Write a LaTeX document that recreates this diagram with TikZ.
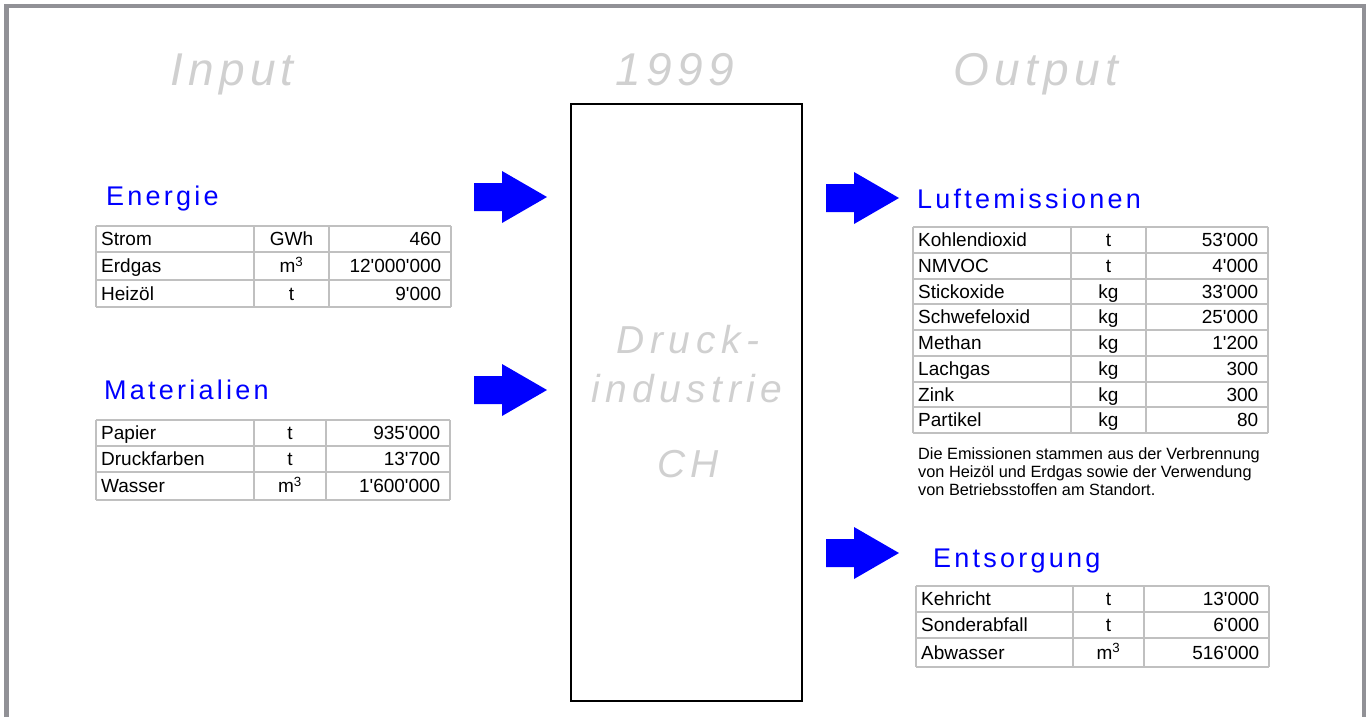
\documentclass[tikz,border=0pt]{standalone}
\usepackage{fontspec}
\setmainfont{Liberation Sans}
\newfontfamily\spacedfont[LetterSpace=12]{Liberation Sans}
\newfontfamily\titlefont[LetterSpace=11.5]{Liberation Sans}
\newfontfamily\widefont[LetterSpace=14]{Liberation Sans}
\definecolor{ttl}{RGB}{208,208,208}
\definecolor{hdblue}{RGB}{0,0,255}
\definecolor{gridgray}{RGB}{192,192,192}
\definecolor{framegray}{RGB}{145,145,150}
\newcommand{\ap}{\textquotesingle}
\newcommand{\setcols}[4]{\def\xa{#1}\def\xb{#2}\def\xc{#3}\def\xd{#4}}
\newcommand{\trow}[6]{%
  \node[cell, anchor=base west] (#1-l) at ({\xa+5}, {(#2+#3)/2+6.7}) {#4};
  \node[cell, anchor=base] (#1-u) at ({(\xb+\xc)/2}, {(#2+#3)/2+6.7}) {#5};
  \node[cell, anchor=base east] (#1-v) at ({\xd-9.5}, {(#2+#3)/2+6.7}) {#6};
}
\newcommand{\tgrid}[3]{%
  \foreach \yy in {#3} {\draw[gridline] (\xa,\yy) -- (\xd,\yy);}
  \foreach \xx in {\xa,\xb,\xc,\xd} {\draw[gridline] (\xx,#1) -- (\xx,#2);}
}
\newcommand{\blockarrow}[2]{%
  \fill[hdblue] (#1,#2-14) -- (#1+28,#2-14) -- (#1+28,#2-26) -- (#1+73,#2)
    -- (#1+28,#2+26) -- (#1+28,#2+14) -- (#1,#2+14) -- cycle;
}
\tikzset{
  cell/.style={inner sep=0pt, font=\fontsize{19}{21}\selectfont, text=black},
  gridline/.style={draw=gridgray, line width=2pt},
  bigtitle/.style={inner sep=0pt, anchor=base, text=ttl, font=\fontsize{46}{50}\titlefont\itshape},
  boxtext/.style={inner sep=0pt, anchor=base, text=ttl, font=\fontsize{39}{42}\widefont\itshape},
  header/.style={inner sep=0pt, anchor=base west, text=hdblue, font=\fontsize{27}{30}\spacedfont},
  note/.style={inner sep=0pt, anchor=base west, font=\fontsize{16.3}{18}\selectfont},
}
\begin{document}
\begin{tikzpicture}[x=1pt,y=-1pt]
\useasboundingbox (0,0) rectangle (1372,716);
% outer frame
\draw[framegray, line width=4.5pt] (6.5,720) -- (6.5,6.2) -- (1364,6.2) -- (1364,720);

% titles
\node[bigtitle] (tin) at (232,85) {Input};
\node[bigtitle] (tyear) at (675,85) {1999};
\node[bigtitle] (tout) at (1036,85) {Output};

% central box
\node[draw=black, line width=1.8pt, minimum width=231pt, minimum height=597pt, inner sep=0pt] (box) at (686.5,402.5) {};
\node[boxtext] (b1) at (688,353) {Druck-};
\node[boxtext] (b2) at (687,402.5) {industrie};
\node[boxtext] (b3) at (688,477) {CH};

% arrows
\blockarrow{474}{197}
\blockarrow{474}{390}
\blockarrow{826}{198}
\blockarrow{826}{553}

% Energie
\node[header] (hE) at (106,205.7) {Energie};
\setcols{96}{254}{329}{451}
\tgrid{226}{307}{226,252,280,307}
\trow{e1}{226}{252}{Strom}{GWh}{460}
\trow{e2}{252}{280}{Erdgas}{m\textsuperscript{3}}{12\ap000\ap000}
\trow{e3}{280}{307}{Heizöl}{t}{9\ap000}

% Materialien
\node[header] (hM) at (104,399) {Materialien};
\setcols{96}{254}{326}{450}
\tgrid{420}{500}{420,446,472,500}
\trow{m1}{420}{446}{Papier}{t}{935\ap000}
\trow{m2}{446}{472}{Druckfarben}{t}{13\ap700}
\trow{m3}{472}{500}{Wasser}{m\textsuperscript{3}}{1\ap600\ap000}

% Luftemissionen
\node[header] (hL) at (917,208) {Luftemissionen};
\setcols{913}{1071}{1146}{1268}
\tgrid{227}{433}{227,252.75,278.5,304.25,330,355.75,381.5,407.25,433}
\trow{l1}{227}{252.75}{Kohlendioxid}{t}{53\ap000}
\trow{l2}{252.75}{278.5}{NMVOC}{t}{4\ap000}
\trow{l3}{278.5}{304.25}{Stickoxide}{kg}{33\ap000}
\trow{l4}{304.25}{330}{Schwefeloxid}{kg}{25\ap000}
\trow{l5}{330}{355.75}{Methan}{kg}{1\ap200}
\trow{l6}{355.75}{381.5}{Lachgas}{kg}{300}
\trow{l7}{381.5}{407.25}{Zink}{kg}{300}
\trow{l8}{407.25}{433}{Partikel}{kg}{80}

\node[note] (n1) at (918,459) {Die Emissionen stammen aus der Verbrennung};
\node[note] (n2) at (918,477) {von Heizöl und Erdgas sowie der Verwendung};
\node[note] (n3) at (918,495) {von Betriebsstoffen am Standort.};

% Entsorgung
\node[header] (hS) at (933,567) {Entsorgung};
\setcols{916}{1073}{1144}{1269}
\tgrid{586}{667}{586,612,638,667}
\trow{s1}{586}{612}{Kehricht}{t}{13\ap000}
\trow{s2}{612}{638}{Sonderabfall}{t}{6\ap000}
\trow{s3}{638}{667}{Abwasser}{m\textsuperscript{3}}{516\ap000}
\end{tikzpicture}
\end{document}
